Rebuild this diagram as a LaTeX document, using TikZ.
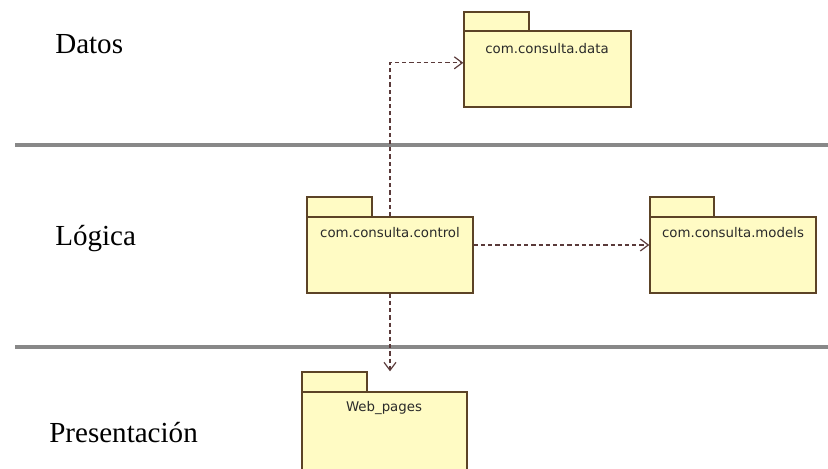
\documentclass[tikz,border=0pt]{standalone}
\usepackage{fontspec}
\setmainfont{Liberation Serif}
\newfontfamily\pkgfont{DejaVu Sans}
\usetikzlibrary{arrows.meta,fit,calc}
\definecolor{pkgfill}{HTML}{FFFBC4}
\definecolor{pkgline}{HTML}{5C4326}
\definecolor{deparrow}{HTML}{5A3A3A}
\definecolor{lanegray}{HTML}{888888}
\definecolor{pkgtext}{HTML}{2A2A2A}
\begin{document}
\begin{tikzpicture}[x=0.75pt,y=-0.75pt,
  pkgbox/.style={draw=pkgline,fill=pkgfill,line width=1.1pt,inner sep=0pt},
  pkglabel/.style={font=\pkgfont\fontsize{10pt}{12pt}\selectfont,text=pkgtext,inner sep=0pt},
  lanelabel/.style={font=\fontsize{21.8pt}{26pt}\selectfont,text=black,anchor=base west,inner sep=0pt},
  lanesep/.style={draw=lanegray,line width=3pt},
  dep/.style={draw=deparrow,line width=1pt,dash pattern=on 3.2pt off 2.2pt,
    -{Straight Barb[length=6pt,width=9pt,line width=0.9pt]}}]
\useasboundingbox (0,0) rectangle (828,468);
\clip (0,0) rectangle (828,468);

% swimlane separators
\coordinate (sepA1) at (15,145);
\coordinate (sepA2) at (828,145);
\coordinate (sepB1) at (15,347);
\coordinate (sepB2) at (828,347);
\draw[lanesep] (sepA1) -- (sepA2);
\draw[lanesep] (sepB1) -- (sepB2);

% layer names
\node[lanelabel] (datos) at (55,53) {Datos};
\node[lanelabel] (logica) at (55,245) {Lógica};
\node[lanelabel] (presentacion) at (49,442) {Presentación};

% package com.consulta.data
\path (464,12) coordinate (dt1) (529,31) coordinate (dt2)
      (464,31) coordinate (db1) (631,107) coordinate (db2);
\node[pkgbox,fit=(dt1)(dt2)] (datatab) {};
\node[pkgbox,fit=(db1)(db2)] (databody) {};
\node[pkglabel] (datatext) at (547,49) {com.consulta.data};

% package com.consulta.control
\path (307,197) coordinate (ct1) (372,217) coordinate (ct2)
      (307,217) coordinate (cb1) (473,293) coordinate (cb2);
\node[pkgbox,fit=(ct1)(ct2)] (ctrltab) {};
\node[pkgbox,fit=(cb1)(cb2)] (ctrlbody) {};
\node[pkglabel] (ctrltext) at (390,233) {com.consulta.control};

% package com.consulta.models
\path (650,197) coordinate (mt1) (714,217) coordinate (mt2)
      (650,217) coordinate (mb1) (816,293) coordinate (mb2);
\node[pkgbox,fit=(mt1)(mt2)] (modtab) {};
\node[pkgbox,fit=(mb1)(mb2)] (modbody) {};
\node[pkglabel] (modtext) at (733,233) {com.consulta.models};

% package Web_pages
\path (302,372) coordinate (wt1) (367,392) coordinate (wt2)
      (302,392) coordinate (wb1) (467,480) coordinate (wb2);
\node[pkgbox,fit=(wt1)(wt2)] (webtab) {};
\node[pkgbox,fit=(wb1)(wb2)] (webbody) {};
\node[pkglabel] (webtext) at (384,408) {Web\_pages};

% dependencies
\draw[dep] (ctrlbody.north) |- ($(databody.north west)!0.42!(databody.south west)$);
\draw[dep] ([yshift=7.5pt]ctrlbody.east) -- ([yshift=7.5pt]modbody.west);
\draw[dep] (ctrlbody.south) -- (ctrlbody.south |- webtab.north);
\end{tikzpicture}
\end{document}
